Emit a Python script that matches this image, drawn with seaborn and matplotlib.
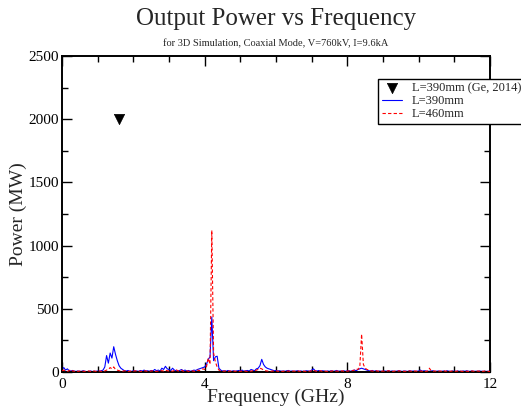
import numpy as np
import pandas as pd
import matplotlib
matplotlib.use("Agg")
import matplotlib.pyplot as plt
from matplotlib.ticker import MultipleLocator
import seaborn as sns

# Frequency grid (GHz), 0.05 GHz resolution
freq = np.round(np.arange(0, 241) * 0.05, 2)

# Output power (MW), L = 390 mm
power_390 = [
    20, 35, 15, 25, 10, 8, 12, 6, 5, 8, 4, 6, 10, 5, 3, 5, 8, 4, 6, 5,
    8, 5, 10, 15, 40, 130, 70, 150, 110, 200, 140, 90, 50, 30, 20, 10, 8, 12, 6, 5,
    10, 6, 8, 5, 12, 7, 15, 8, 10, 6, 12, 8, 20, 10, 15, 8, 30, 20, 45, 25,
    20, 12, 30, 15, 10, 8, 12, 20, 10, 15, 8, 12, 6, 10, 15, 12, 20, 25, 30, 35,
    40, 60, 100, 120, 435, 90, 120, 125, 30, 15, 8, 10, 6, 12, 8, 5, 10, 6, 8, 12,
    8, 15, 6, 10, 12, 8, 20, 15, 10, 25, 30, 50, 100, 60, 40, 30, 25, 20, 15, 10,
    12, 8, 10, 6, 8, 5, 10, 12, 6, 8, 5, 7, 10, 6, 8, 5, 6, 10, 8, 6,
    15, 25, 10, 8, 12, 6, 10, 8, 5, 8, 6, 10, 5, 8, 12, 6, 8, 5, 10, 6,
    8, 10, 6, 12, 15, 10, 20, 25, 30, 25, 20, 15, 10, 8, 12, 6, 10, 5, 8, 6,
    5, 8, 6, 10, 5, 8, 6, 5, 8, 10, 6, 5, 8, 6, 5, 10, 6, 8, 5, 6,
    8, 15, 6, 10, 8, 5, 6, 8, 10, 5, 6, 8, 5, 6, 8, 5, 10, 6, 5, 8,
    6, 5, 8, 6, 5, 8, 6, 10, 5, 6, 8, 5, 6, 5, 8, 6, 5, 6, 5, 6,
    5,
]

# Output power (MW), L = 460 mm
power_460 = [
    10, 15, 8, 5, 10, 20, 8, 6, 10, 5, 8, 12, 6, 5, 10, 8, 5, 6, 8, 5,
    6, 8, 5, 10, 8, 15, 20, 35, 25, 40, 20, 15, 10, 8, 6, 10, 8, 5, 6, 8,
    5, 10, 6, 8, 5, 6, 10, 8, 5, 6, 8, 10, 6, 5, 8, 12, 10, 8, 15, 10,
    8, 10, 6, 12, 20, 8, 10, 15, 6, 8, 10, 5, 8, 10, 6, 8, 15, 10, 20, 25,
    20, 40, 110, 60, 1120, 150, 80, 40, 15, 10, 8, 6, 10, 5, 8, 6, 10, 5, 8, 6,
    5, 8, 10, 6, 5, 8, 6, 10, 8, 15, 20, 30, 25, 15, 10, 8, 6, 5, 8, 6,
    10, 5, 8, 6, 5, 10, 6, 8, 5, 6, 8, 5, 10, 6, 5, 8, 6, 5, 8, 6,
    10, 15, 8, 5, 6, 10, 5, 8, 6, 5, 8, 6, 10, 5, 8, 6, 5, 10, 6, 8,
    6, 10, 8, 12, 15, 25, 20, 40, 300, 60, 30, 20, 15, 10, 8, 6, 10, 8, 5, 6,
    8, 5, 6, 10, 8, 5, 6, 8, 5, 10, 6, 8, 5, 6, 10, 8, 6, 5, 8, 6,
    5, 8, 6, 10, 5, 8, 30, 10, 6, 8, 5, 6, 8, 5, 10, 6, 8, 5, 6, 8,
    5, 6, 8, 10, 6, 5, 8, 6, 5, 10, 8, 6, 5, 8, 6, 10, 5, 8, 6, 5,
    5,
]

# Published reference point (Ge, 2014)
ref_freq = [1.6]
ref_power = [2000]

sns.set_style("ticks")
plt.rcParams["font.family"] = ["Liberation Serif", "DejaVu Serif"]

df390 = pd.DataFrame({"freq": freq, "power": power_390})
df460 = pd.DataFrame({"freq": freq, "power": power_460})
dfref = pd.DataFrame({"freq": ref_freq, "power": ref_power})

fig = plt.figure(figsize=(5.21, 4.11), dpi=100)
ax = fig.add_axes([62 / 521, 1 - 372 / 411, 428 / 521, 316 / 411])

sns.scatterplot(data=dfref, x="freq", y="power", ax=ax, marker="v", s=55,
                color="black", edgecolor="black", linewidth=0.5,
                label="L=390mm (Ge, 2014)", zorder=4)
sns.lineplot(data=df390, x="freq", y="power", ax=ax, color="blue",
             linewidth=0.8, label="L=390mm", zorder=2)
sns.lineplot(data=df460, x="freq", y="power", ax=ax, color="red",
             linewidth=0.8, linestyle=(0, (3, 2)), label="L=460mm", zorder=3)

ax.set_xlim(0, 12)
ax.set_ylim(0, 2500)
ax.xaxis.set_major_locator(MultipleLocator(4))
ax.xaxis.set_minor_locator(MultipleLocator(1))
ax.yaxis.set_major_locator(MultipleLocator(500))
ax.yaxis.set_minor_locator(MultipleLocator(250))
ax.tick_params(which="both", direction="in", top=True, right=True,
               labelsize=11, colors="black")
ax.tick_params(axis="x", which="both", pad=4)
ax.tick_params(axis="y", which="both", pad=2)
ax.tick_params(which="major", length=7, width=1.0)
ax.tick_params(which="minor", length=4, width=1.0)
for sp in ax.spines.values():
    sp.set_visible(True)
    sp.set_linewidth(1.4)
    sp.set_color("black")

ax.set_xlabel("Frequency (GHz)", fontsize=14, labelpad=-1)
ax.set_ylabel("Power (MW)", fontsize=14, labelpad=1)

# Title and subtitle centred over the plotting area
cx = (62 + 490) / 2 / 521
fig.text(cx, 1 - 19 / 411, "Output Power vs Frequency", ha="center",
         va="center", fontsize=18)
fig.text(cx, 1 - 44 / 411, "for 3D Simulation, Coaxial Mode, V=760kV, I=9.6kA",
         ha="center", va="center", fontsize=7.5)

leg = ax.legend(loc="upper left", bbox_to_anchor=(378 / 521, 1 - 79 / 411),
                bbox_transform=fig.transFigure, fontsize=9, frameon=True,
                fancybox=False, shadow=False, borderpad=0.3, labelspacing=0.05,
                handlelength=1.6, handletextpad=0.8, borderaxespad=0)
leg.get_frame().set_edgecolor("black")
leg.get_frame().set_linewidth(1.0)
leg.get_frame().set_alpha(1)
leg.set_clip_on(False)

fig.savefig("out.png", dpi=100)
